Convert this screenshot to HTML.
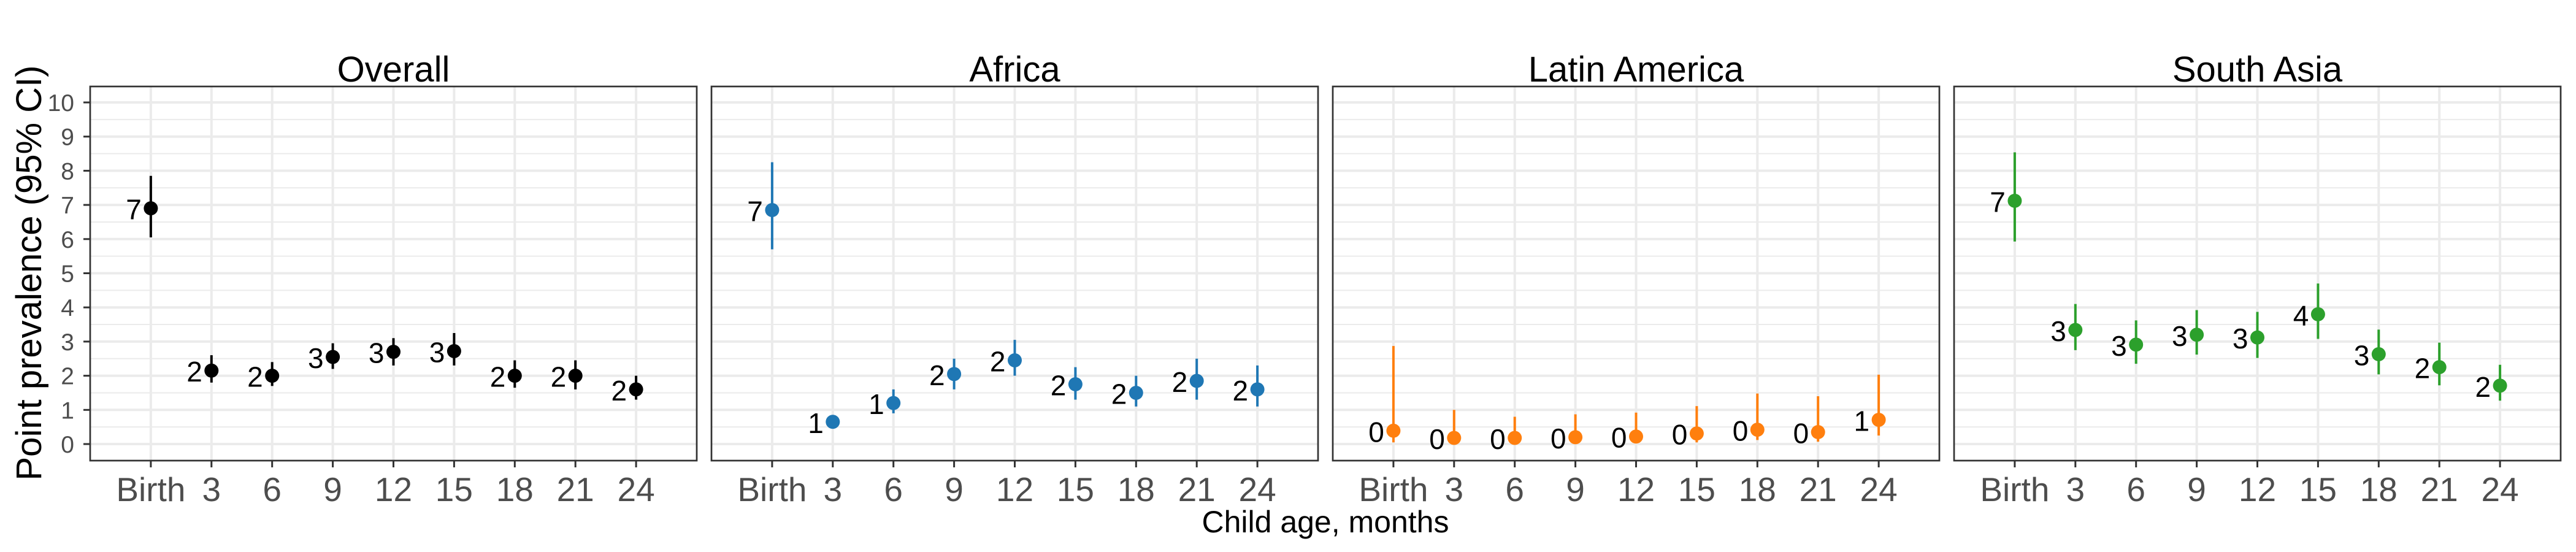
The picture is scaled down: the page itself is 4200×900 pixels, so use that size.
<!DOCTYPE html>
<html><head><meta charset="utf-8"><style>
html,body{margin:0;padding:0;background:#fff}
svg{display:block;font-family:"Liberation Sans",Arial,sans-serif}
</style></head><body>
<svg id="chart" width="4200" height="900" viewBox="0 0 4200 900" xmlns="http://www.w3.org/2000/svg">
<text x="0" y="0" transform="translate(67,445) rotate(-90)" text-anchor="middle" font-size="58" fill="#000">Point prevalence (95% CI)</text>
<text x="2161" y="868" text-anchor="middle" font-size="50" fill="#000">Child age, months</text>
</svg>
<script>
const categories = ["Birth","3","6","9","12","15","18","21","24"];
const yTicks = [0,1,2,3,4,5,6,7,8,9,10];
const panelNames = ["Overall","Africa","Latin America","South Asia"];
const panelColors = ["#000000","#1f77b4","#ff7f0e","#2ca02c"];
const overallEst = [6.9,2.15,2.0,2.55,2.7,2.72,2.0,2.0,1.6];
const overallLo  = [6.05,1.8,1.7,2.2,2.3,2.3,1.65,1.6,1.3];
const overallHi  = [7.85,2.6,2.4,2.95,3.1,3.25,2.45,2.45,2.0];
const africaEst = [6.85,0.65,1.2,2.05,2.45,1.75,1.5,1.85,1.6];
const africaLo  = [5.7,0.5,0.9,1.6,2.0,1.3,1.1,1.3,1.1];
const africaHi  = [8.25,0.85,1.6,2.5,3.05,2.25,2.0,2.5,2.3];
const latamEst = [0.39,0.18,0.18,0.2,0.22,0.31,0.42,0.35,0.71];
const latamLo  = [0.05,0.02,0.02,0.03,0.03,0.05,0.12,0.07,0.25];
const latamHi  = [2.87,1.0,0.8,0.87,0.92,1.11,1.48,1.4,2.03];
const asiaEst = [7.12,3.34,2.91,3.2,3.12,3.8,2.63,2.25,1.71];
const asiaLo  = [5.93,2.75,2.35,2.62,2.52,3.08,2.04,1.72,1.27];
const asiaHi  = [8.54,4.1,3.62,3.92,3.87,4.7,3.35,2.97,2.32];
const overallLabels = ["7","2","2","3","3","3","2","2","2"];
const africaLabels = ["7","1","1","2","2","2","2","2","2"];
const latamLabels = ["0","0","0","0","0","0","0","0","1"];
const asiaLabels = ["7","3","3","3","3","4","3","2","2"];

const ests=[overallEst,africaEst,latamEst,asiaEst];
const los=[overallLo,africaLo,latamLo,asiaLo];
const his=[overallHi,africaHi,latamHi,asiaHi];
const labs=[overallLabels,africaLabels,latamLabels,asiaLabels];

const NS="http://www.w3.org/2000/svg";
const svg=document.getElementById('chart');
const panelLefts=[147,1160,2173,3186], PW=989, PT=141, PB=751;
const y0px=724, y10px=167;
function yScale(v){return y0px+(y10px-y0px)*v/10;}
function xScale(i,p){return panelLefts[p]+PW*(i+1)/(categories.length+1);}
function mk(tag,attrs,parent){const e=document.createElementNS(NS,tag);for(const k in attrs)e.setAttribute(k,attrs[k]);(parent||svg).appendChild(e);return e;}

panelNames.forEach((name,p)=>{
  const g=mk('g',{});
  
  
  const L=panelLefts[p];
  mk('rect',{x:L,y:PT,width:PW,height:PB-PT,fill:'#fff'},g);
  for(let v=-0.5;v<=10.5;v+=0.5){
    const yy=yScale(v); if(yy<PT||yy>PB) continue;
    const major=Number.isInteger(v);
    mk('line',{x1:L,x2:L+PW,y1:yy,y2:yy,stroke:'#ebebeb','stroke-width':major?4:2},g);
  }
  categories.forEach((c,i)=>{
    const xx=xScale(i,p);
    mk('line',{x1:xx,x2:xx,y1:PT,y2:PB,stroke:'#ebebeb','stroke-width':4},g);
  });
  const title=mk('text',{x:L+PW/2,y:133,'text-anchor':'middle','font-size':58,fill:'#000'},g);
  title.textContent=name;
  
  
  categories.forEach((c,i)=>{
    const xx=xScale(i,p);
    mk('line',{x1:xx,x2:xx,y1:PB,y2:PB+11,stroke:'#333','stroke-width':3},g);
    const t=mk('text',{x:xx,y:817,'text-anchor':'middle','font-size':55,fill:'#4d4d4d'},g);
    t.textContent=c;
    
    
  });
  ests[p].forEach((v,i)=>{
    const xx=xScale(i,p);
    const bar=mk('line',{x1:xx,x2:xx,y1:yScale(los[p][i]),y2:yScale(his[p][i]),stroke:panelColors[p],'stroke-width':4},g);
    
    
    const pt=mk('circle',{cx:xx,cy:yScale(v),r:11.5,fill:panelColors[p]},g);
    
    
    const lb=mk('text',{x:xx-15,y:yScale(v)+18,'text-anchor':'end','font-size':46,fill:'#000'},g);
    lb.textContent=labs[p][i];
    
    
  });
  mk('rect',{x:L,y:PT,width:PW,height:PB-PT,fill:'none',stroke:'#333','stroke-width':2.7},g);
});
const ya=mk('g',{});


yTicks.forEach(v=>{
  const yy=yScale(v);
  mk('line',{x1:136,x2:147,y1:yy,y2:yy,stroke:'#333','stroke-width':3},ya);
  const t=mk('text',{x:121,y:yy+14,'text-anchor':'end','font-size':39,fill:'#4d4d4d'},ya);
  t.textContent=v;
  
  
});
</script>
</body></html>
